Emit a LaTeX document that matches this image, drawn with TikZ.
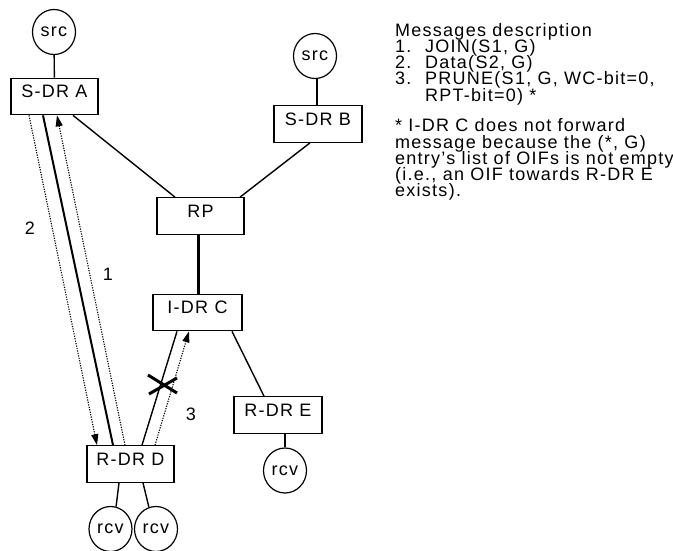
\documentclass[tikz,border=0pt]{standalone}
\usepackage{fontspec}
\setmainfont{Liberation Sans}[LetterSpace=7]
\usetikzlibrary{arrows.meta,calc,shapes.geometric}
\newcommand{\itemno}[1]{\makebox[30pt][l]{#1}}
\begin{document}
\begin{tikzpicture}[x=1pt,y=-1pt,
  every node/.style={font=\fontsize{18}{16.4}\selectfont},
  rbox/.style={draw, line width=1.2pt, inner sep=0pt, text height=19.5pt, text depth=17pt, minimum width=87pt},
  host/.style={draw, ellipse, line width=1.2pt, inner sep=0pt, minimum width=43pt, minimum height=45pt},
  link/.style={line width=1.4pt},
  tree/.style={line width=2pt},
  msg/.style={line width=1.1pt, dash pattern=on 1.2pt off 1.3pt},
  tip/.style={-{Triangle[length=11pt,width=7pt]}},
  txt/.style={anchor=base west, inner sep=0pt}
]
\useasboundingbox (0,0) rectangle (673,550);

% nodes
\node[host] (srcA) at (54,32) {src};
\node[host] (srcB) at (315,56) {src};
\node[rbox] (SA) at (54.5,96.5) {S-DR A};
\node[rbox, minimum width=88pt] (SB) at (318,124) {S-DR B};
\node[rbox] (RP) at (200.5,216) {RP};
\node[rbox, minimum width=89pt] (C) at (197.5,312.5) {I-DR C};
\node[rbox, minimum width=88pt] (E) at (278,415) {R-DR E};
\node[rbox] (D) at (130.5,464) {R-DR D};
\node[host] (rcvE) at (285,470.5) {rcv};
\node[host] (rcv1) at (110.5,529) {rcv};
\node[host] (rcv2) at (156,529) {rcv};

% links
\draw[link] (srcA) -- (SA);
\draw[link] (srcB.south -| 317,0) -- (SB.north -| 317,0);
\draw[link] ([xshift=18.5pt]SA.south) -- ([xshift=-25.5pt]RP.north);
\draw[link] ([xshift=-8pt]SB.south) -- ([xshift=39.5pt]RP.north);
\draw[line width=3pt] ([xshift=-2.5pt]RP.south) -- ([xshift=0.5pt]C.north);
\draw[link] ([xshift=34.5pt]C.south) -- ([xshift=-14pt]E.north);
\draw[link] ([xshift=7pt]E.south) -- (rcvE.north);
\draw[link] ([xshift=-11.5pt]D.south) -- ($(rcv1.center)!1!-14:(rcv1.north)$);
\draw[link] ([xshift=12.5pt]D.south) -- ($(rcv2.center)!1!18:(rcv2.north)$);

% tree link S-DR A -- R-DR D
\draw[tree] ([xshift=-11.5pt]SA.south) -- ([xshift=-17.5pt]D.north);
% R-DR D -- I-DR C
\draw[link] ([xshift=11.5pt]D.north) -- ([xshift=-20.5pt]C.north |- C.south);

% messages
\draw[msg,tip] ([xshift=-25.5pt]SA.south) -- ([xshift=-33.5pt]D.north);
\draw[msg,tip] ([xshift=-5.5pt]D.north) -- ([xshift=2.5pt]SA.south);
\draw[msg,tip] ([xshift=24.5pt]D.north) -- ([xshift=-8.5pt]C.south);

% prune blocked mark
\coordinate (x1) at (148,375);
\coordinate (x2) at (177,393);
\coordinate (x3) at (149,394);
\coordinate (x4) at (177,378);
\draw[line width=3pt] (x1) -- (x2);
\draw[line width=3pt] (x3) -- (x4);

% message numbers
\node (n2) at (30,228.5) {2};
\node (n1) at (108,274) {1};
\node (n3) at (191,414) {3};

% description
\node[txt] (desc) at (395,36) {\vtop{\baselineskip=16.3pt\lineskiplimit=-50pt\lineskip=0pt
  \hbox{Messages description}
  \hbox{\itemno{1.}JOIN(S1, G)}
  \hbox{\itemno{2.}Data(S2, G)}
  \hbox{\itemno{3.}PRUNE(S1, G, WC-bit=0,}
  \hbox{\itemno{}RPT-bit=0) *}
  \vskip 14.2pt
  \hbox{* I-DR C does not forward}
  \hbox{message because the (*, G)}
  \hbox{entry's list of OIFs is not empty}
  \hbox{(i.e., an OIF towards R-DR E}
  \hbox{exists).}}};
\end{tikzpicture}
\end{document}
